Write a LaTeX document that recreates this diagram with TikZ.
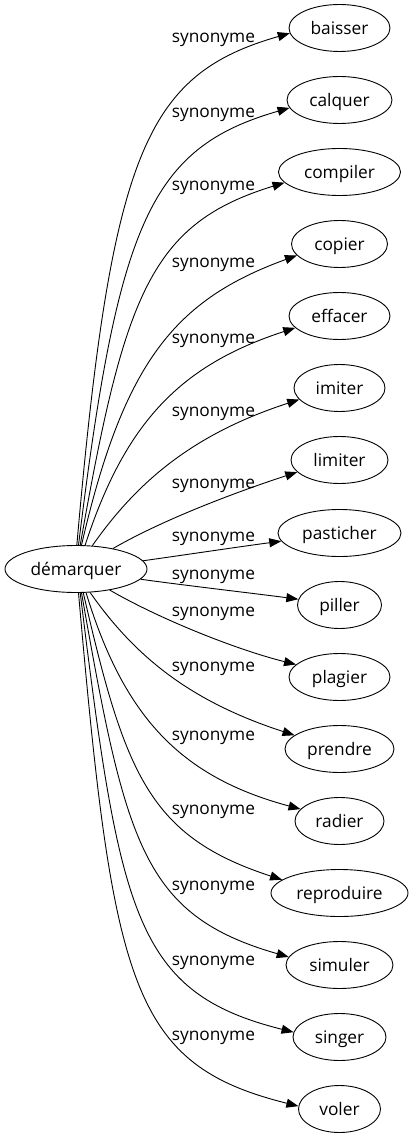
\documentclass[tikz,border=0pt]{standalone}
\usepackage{fontspec}
\setmainfont{Open Sans}
\usetikzlibrary{arrows.meta,shapes.geometric}
\begin{document}
\begin{tikzpicture}[x=1pt,y=1pt,
  word/.style={draw, ellipse, inner sep=0pt, minimum height=47pt, line width=0.9pt,
    text height=15pt, text depth=2pt, font=\fontsize{17.3}{20}\selectfont},
  lbl/.style={inner sep=0pt, anchor=base, font=\fontsize{17.3}{20}\selectfont},
  edge/.style={line width=0.9pt, -{Triangle[length=12pt,width=9pt]}}]
\useasboundingbox (0,0) rectangle (413,-1139);
\node[word, minimum width=142pt] (c) at (76,-569) {démarquer};
\node[word, minimum width=101pt] (baisser) at (339.5,-28) {baisser};
\node[word, minimum width=105pt] (calquer) at (339.5,-100) {calquer};
\node[word, minimum width=122pt] (compiler) at (339.5,-172) {compiler};
\node[word, minimum width=96pt] (copier) at (339.5,-244) {copier};
\node[word, minimum width=101pt] (effacer) at (339.5,-316) {effacer};
\node[word, minimum width=91pt] (imiter) at (339.5,-388) {imiter};
\node[word, minimum width=97pt] (limiter) at (339.5,-460) {limiter};
\node[word, minimum width=123pt] (pasticher) at (339.5,-533) {pasticher};
\node[word, minimum width=84pt] (piller) at (339.5,-605) {piller};
\node[word, minimum width=101pt] (plagier) at (339.5,-677) {plagier};
\node[word, minimum width=109pt] (prendre) at (339.5,-749) {prendre};
\node[word, minimum width=89pt] (radier) at (339.5,-821) {radier};
\node[word, minimum width=137pt] (reproduire) at (339.5,-893) {reproduire};
\node[word, minimum width=107pt] (simuler) at (339.5,-965) {simuler};
\node[word, minimum width=93pt] (singer) at (339.5,-1037) {singer};
\node[word, minimum width=82pt] (voler) at (339.5,-1109) {voler};

\draw[edge] (c.88) .. controls +(85:395) and +(196:150) .. (baisser.186);
\draw[edge] (c.84) .. controls +(83:325) and +(196:145) .. (calquer.189);
\draw[edge] (c.80) .. controls +(80:255) and +(197:140) .. (compiler.191);
\draw[edge] (c.77) .. controls +(77:188) and +(200:130) .. (copier.195);
\draw[edge] (c.69) .. controls +(72:130) and +(198:120) .. (effacer.195);
\draw[edge] (c.55) .. controls +(55:80) and +(198:110) .. (imiter.196);
\draw[edge] (c.29) .. controls +(30:60) and +(198:60) .. (limiter.196);
\draw[edge] (c.7.5) .. controls +(8:40) and +(187.5:40) .. (pasticher.188);
\draw[edge] (c.351) .. controls +(-8:40) and +(172.5:40) .. (piller.172);
\draw[edge] (c.328) .. controls +(-30:60) and +(166:60) .. (plagier.164);
\draw[edge] (c.301) .. controls +(-55:78) and +(162:110) .. (prendre.163);
\draw[edge] (c.293) .. controls +(-73:129) and +(165:125) .. (radier.163);
\draw[edge] (c.287) .. controls +(-77:186) and +(162:140) .. (reproduire.167);
\draw[edge] (c.283) .. controls +(-80:255) and +(164:152) .. (simuler.171);
\draw[edge] (c.280) .. controls +(-83:325) and +(166:163) .. (singer.174);
\draw[edge] (c.276) .. controls +(-85:395) and +(166:172) .. (voler.176);

\node[lbl] (l1) at (213.4,-43) {synonyme};
\node[lbl] (l2) at (213.4,-118) {synonyme};
\node[lbl] (l3) at (213.4,-191) {synonyme};
\node[lbl] (l4) at (213.4,-268) {synonyme};
\node[lbl] (l5) at (213.4,-343) {synonyme};
\node[lbl] (l6) at (213.4,-416.5) {synonyme};
\node[lbl] (l7) at (213.4,-488) {synonyme};
\node[lbl] (l8) at (213.4,-541.7) {synonyme};
\node[lbl] (l9) at (213.4,-579) {synonyme};
\node[lbl] (l10) at (213.4,-616.5) {synonyme};
\node[lbl] (l11) at (213.4,-671) {synonyme};
\node[lbl] (l12) at (213.4,-740) {synonyme};
\node[lbl] (l13) at (213.4,-814.5) {synonyme};
\node[lbl] (l14) at (213.4,-890) {synonyme};
\node[lbl] (l15) at (213.4,-965.5) {synonyme};
\node[lbl] (l16) at (213.4,-1040.7) {synonyme};
\end{tikzpicture}
\end{document}
